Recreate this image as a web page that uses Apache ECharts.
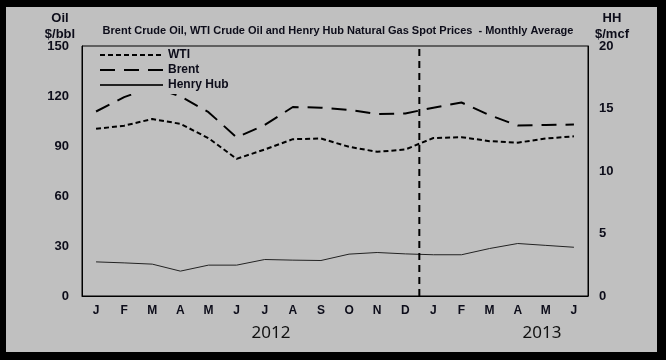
<!DOCTYPE html>
<html>
<head>
<meta charset="utf-8">
<script src="https://cdn.jsdelivr.net/npm/echarts@6/dist/echarts.min.js"></script>
<style>
  html, body { margin: 0; padding: 0; background: #000; }
  #frame { position: absolute; left: 6px; top: 7px; width: 651px; height: 345px; background: #c0c0c0; }
  #chart { position: absolute; left: 0; top: 0; width: 666px; height: 360px; }
</style>
</head>
<body>
<div id="frame"></div>
<div id="chart"></div>
<script>
const months = ['J','F','M','A','M','J','J','A','S','O','N','D','J','F','M','A','M','J'];
const wti = [100.3, 102.2, 106.2, 103.3, 94.7, 82.3, 87.9, 94.1, 94.5, 89.5, 86.5, 87.9, 94.8, 95.3, 92.9, 92.0, 94.5, 95.8];
const brent = [110.7, 119.3, 125.5, 119.8, 110.3, 95.2, 102.6, 113.4, 113.0, 111.7, 109.1, 109.5, 113.0, 116.1, 108.5, 102.3, 102.6, 102.9];
const henryHub = [2.73, 2.65, 2.55, 1.99, 2.47, 2.47, 2.92, 2.87, 2.84, 3.35, 3.48, 3.37, 3.30, 3.30, 3.80, 4.20, 4.05, 3.90];
const yearDivider = [[12, 0], [12, 150]];
const years = ['2012', '2013'];
const titleText = 'Brent Crude Oil, WTI Crude Oil and Henry Hub Natural Gas Spot Prices  - Monthly Average';

const chart = echarts.init(document.getElementById('chart'), null, { renderer: 'canvas' });
const txt = '#0d0d1a';
chart.setOption({
  backgroundColor: 'transparent',
  animation: false,
  grid: { left: 82, right: 78, top: 46, bottom: 64, show: true, borderColor: '#000', borderWidth: 1, backgroundColor: 'transparent' },
  legend: {
    data: ['WTI', 'Brent', 'Henry Hub'],
    orient: 'vertical',
    left: 92, top: 47,
    padding: [2, 8, 3, 7],
    backgroundColor: '#c0c0c0',
    itemWidth: 63, itemHeight: 12, itemGap: 3,
    textStyle: { fontFamily: 'Liberation Sans', fontWeight: 'bold', fontSize: 12, color: txt, lineHeight: 12, padding: [0, 0, 0, 0] },
    itemStyle: { opacity: 0 }
  },
  xAxis: [
    {
      type: 'category', data: months, boundaryGap: true,
      axisLine: { lineStyle: { color: '#000', width: 1 } },
      axisTick: { show: false },
      axisLabel: { fontFamily: 'Liberation Sans', fontWeight: 'bold', fontSize: 12, color: txt, margin: 9, interval: 0 }
    },
    { type: 'value', min: 0, max: 18, show: false }
  ],
  yAxis: [
    {
      type: 'value', min: 0, max: 150, interval: 30,
      axisLine: { show: true, lineStyle: { color: '#000' } },
      axisTick: { show: false }, splitLine: { show: false },
      axisLabel: { fontFamily: 'Liberation Sans', fontWeight: 'bold', fontSize: 13, color: txt, margin: 13 }
    },
    {
      type: 'value', min: 0, max: 20, interval: 5, position: 'right',
      axisLine: { show: true, lineStyle: { color: '#000' } },
      axisTick: { show: false }, splitLine: { show: false },
      axisLabel: { fontFamily: 'Liberation Sans', fontWeight: 'bold', fontSize: 13, color: txt, margin: 11 }
    }
  ],
  graphic: [
    { type: 'text', x: 338, y: 31, style: { text: titleText, align: 'center', verticalAlign: 'middle', font: 'bold 11px "Liberation Sans"', fill: txt } },
    { type: 'text', x: 60, y: 26, style: { text: 'Oil\n$/bbl', align: 'center', verticalAlign: 'middle', font: 'bold 13px "Liberation Sans"', lineHeight: 16, fill: txt } },
    { type: 'text', x: 612, y: 26, style: { text: 'HH\n$/mcf', align: 'center', verticalAlign: 'middle', font: 'bold 13px "Liberation Sans"', lineHeight: 16, fill: txt } },
    { type: 'text', x: 271, y: 333, style: { text: years[0], align: 'center', verticalAlign: 'middle', font: '17px "Noto Sans"', fill: '#111' } },
    { type: 'text', x: 542, y: 333, style: { text: years[1], align: 'center', verticalAlign: 'middle', font: '17px "Noto Sans"', fill: '#111' } }
  ],
  series: [
    {
      name: 'WTI', type: 'line', data: wti, symbol: 'none', yAxisIndex: 0,
      lineStyle: { color: '#000', width: 2, type: [5, 3] }, itemStyle: { color: '#000' }
    },
    {
      name: 'Brent', type: 'line', data: brent, symbol: 'none', yAxisIndex: 0,
      lineStyle: { color: '#000', width: 2, type: [15, 9] }, itemStyle: { color: '#000' }
    },
    {
      name: 'Henry Hub', type: 'line', data: henryHub, symbol: 'none', yAxisIndex: 1,
      lineStyle: { color: '#222', width: 1, type: 'solid' }, itemStyle: { color: '#222' }
    },
    {
      name: 'divider', type: 'line', data: yearDivider, xAxisIndex: 1, yAxisIndex: 0, symbol: 'none',
      lineStyle: { color: '#000', width: 2, type: [7, 5] }, silent: true
    }
  ]
});
</script>
</body>
</html>
